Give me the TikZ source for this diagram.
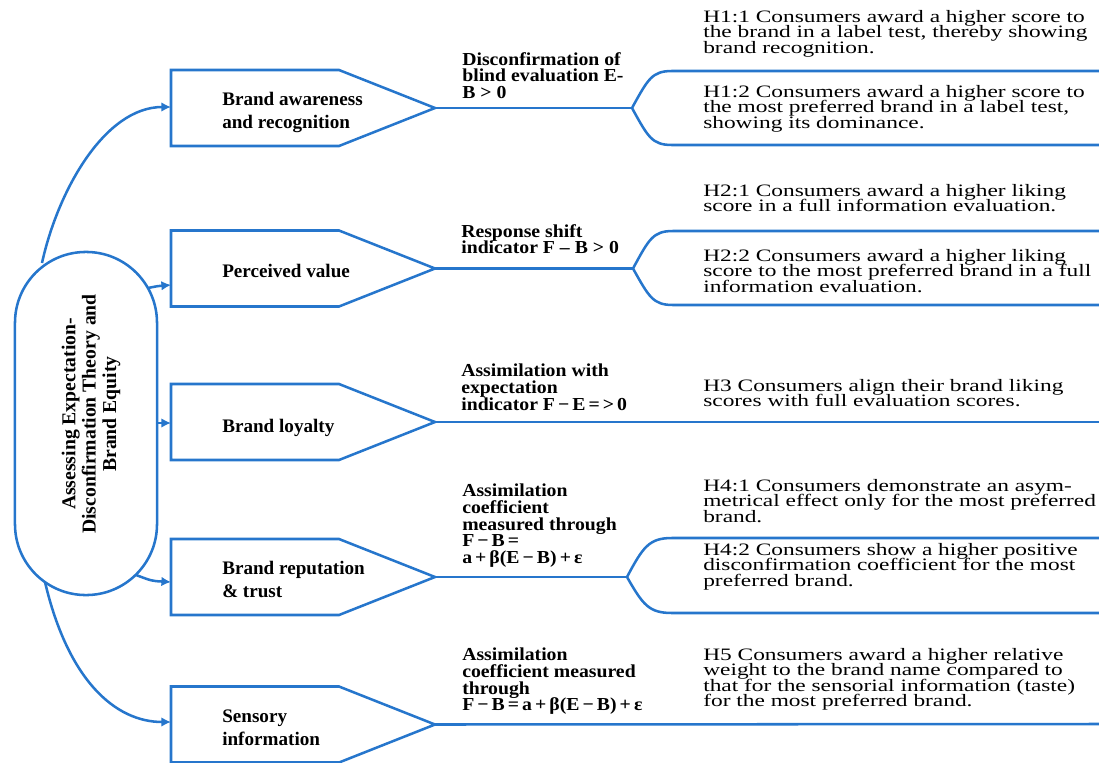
\documentclass[tikz,border=0pt]{standalone}
\usepackage{fontspec}
\setmainfont{Liberation Serif}
\newfontfamily\hypfont[FakeStretch=1.34]{Liberation Serif}
\newfontfamily\measurefont[FakeStretch=1.08]{Liberation Serif}
\usetikzlibrary{arrows.meta}
\definecolor{edblue}{RGB}{38,118,204}
\setlength{\lineskiplimit}{-20pt}
\newcommand{\pointbox}[2]{
    \draw[boxline] (171,#2-38) -- (339,#2-38) -- (435,#2) -- (339,#2+38) -- (171,#2+38) -- cycle;
    \coordinate (#1-w) at (171,#2);
    \coordinate (#1-tip) at (435,#2);
}
\tikzset{
    boxline/.style={draw=edblue, line width=1.8pt, line join=miter},
    link/.style={draw=edblue, line width=1.8pt},
    feed/.style={link, -{Latex[length=2.4mm,width=2.4mm]}},
    boxlabel/.style={anchor=north west, inner sep=0pt, align=left,
        font=\fontsize{13.6pt}{16.3pt}\selectfont\bfseries},
    measure/.style={anchor=north west, inner sep=0pt, align=left,
        font=\measurefont\fontsize{13pt}{11.8pt}\selectfont\bfseries},
    hypo/.style={anchor=north west, inner sep=0pt, align=left,
        font=\hypfont\fontsize{12.4pt}{11pt}\selectfont},
}

\begin{document}
\begin{tikzpicture}[x=0.025cm, y=-0.025cm]
        \useasboundingbox (0,0) rectangle (1099,763);
        \node[draw=edblue, line width=1.8pt, rounded corners=1.77cm,
            minimum width=8.575cm, minimum height=3.55cm, rotate=90] (theory) at (86,423.5) {};
        \node[rotate=90, align=center, inner sep=0pt,
            font=\fontsize{14pt}{14.5pt}\selectfont\bfseries] (theorytext) at (91,414)
            {Assessing Expectation-\\ Disconfirmation Theory and\\ Brand Equity};

        \pointbox{box1}{108}
        \pointbox{box2}{268.5}
        \pointbox{box3}{422}
        \pointbox{box4}{577}
        \pointbox{box5}{724.5}

        \node[boxlabel] (awareness) at (222,92) {Brand awareness\\ and recognition};
        \node[boxlabel] (value) at (222,263.5) {Perceived value};
        \node[boxlabel] (loyalty) at (222,418.5) {Brand loyalty};
        \node[boxlabel] (reputation) at (222,561) {Brand reputation\\ \& trust};
        \node[boxlabel] (sensory) at (222,710) {Sensory\\ information};

        \coordinate (out1) at (42,263);
        \coordinate (out2) at (148,288);
        \coordinate (out3) at (157,423);
        \coordinate (out4) at (136,575);
        \coordinate (out5) at (45,582);
        \coordinate (in1) at (171,107);
        \coordinate (in2) at (171,285);
        \coordinate (in3) at (171,423);
        \coordinate (in4) at (171,582);
        \coordinate (in5) at (171,722);
        \draw[feed] (out1) .. controls (58,190) and (105,107) .. (in1);
        \draw[feed] (out2) .. controls (158,286) .. (in2);
        \draw[feed] (out3) -- (in3);
        \draw[feed] (out4) .. controls (152,581) .. (in4);
        \draw[feed] (out5) .. controls (68,680) and (115,722) .. (in5);

        \coordinate (j1) at (632,108);
        \coordinate (j2) at (633,268.5);
        \coordinate (j4) at (627,577);
        \coordinate (e11) at (1099,71);
        \coordinate (e12) at (1099,145);
        \coordinate (e21) at (1099,231);
        \coordinate (e22) at (1099,305);
        \coordinate (e3) at (1099,422);
        \coordinate (e41) at (1099,538);
        \coordinate (e42) at (1099,613);
        \coordinate (e5) at (1099,724);

        \draw[link] (box1-tip) -- (j1);
        \draw[link] (j1) .. controls (648,79) and (652,71) .. (672,71) -- (e11);
        \draw[link] (j1) .. controls (648,137) and (652,145) .. (672,145) -- (e12);
        \draw[link] (box2-tip) -- (j2);
        \draw[link] (j2) .. controls (649,239) and (653,231) .. (673,231) -- (e21);
        \draw[link] (j2) .. controls (649,297) and (653,305) .. (673,305) -- (e22);
        \draw[link] (box3-tip) -- (e3);
        \draw[link] (box4-tip) -- (j4);
        \draw[link] (j4) .. controls (643,547) and (649,538) .. (672,538) -- (e41);
        \draw[link] (j4) .. controls (643,605) and (649,613) .. (672,613) -- (e42);
        \draw[link] (box5-tip) -- (e5);

        \node[measure] (m1) at (462,52) {Disconfirmation of\\ blind evaluation E-\\ B > 0};
        \node[measure] (m2) at (461,224) {Response shift\\ indicator F – B > 0};
        \node[measure] (m3) at (461,364) {Assimilation with\\ expectation\\ indicator F\,−\,E\,=\,>\,0};
        \node[measure] (m4) at (462,484) {Assimilation\\ coefficient\\ measured through\\ F\,−\,B\,=\\ a\,+\,β(E\,−\,B)\,+\,ε};
        \node[measure] (m5) at (462,648) {Assimilation\\ coefficient measured\\ through\\ F\,−\,B\,=\,a\,+\,β(E\,−\,B)\,+\,ε};

        \node[hypo] (h11) at (703,10) {H1:1 Consumers award a higher score to\\ the brand in a label test, thereby showing\\ brand recognition.};
        \node[hypo] (h12) at (703,85) {H1:2 Consumers award a higher score to\\ the most preferred brand in a label test,\\ showing its dominance.};
        \node[hypo] (h21) at (703,184) {H2:1 Consumers award a higher liking\\ score in a full information evaluation.};
        \node[hypo] (h22) at (703,249) {H2:2 Consumers award a higher liking\\ score to the most preferred brand in a full\\ information evaluation.};
        \node[hypo] (h3) at (703,379) {H3 Consumers align their brand liking\\ scores with full evaluation scores.};
        \node[hypo] (h41) at (703,479) {H4:1 Consumers demonstrate an asym-\\ metrical effect only for the most preferred\\ brand.};
        \node[hypo] (h42) at (703,543) {H4:2 Consumers show a higher positive\\ disconfirmation coefficient for the most\\ preferred brand.};
        \node[hypo] (h5) at (703,648) {H5 Consumers award a higher relative\\ weight to the brand name compared to\\ that for the sensorial information (taste)\\ for the most preferred brand.};
\end{tikzpicture}
\end{document}
